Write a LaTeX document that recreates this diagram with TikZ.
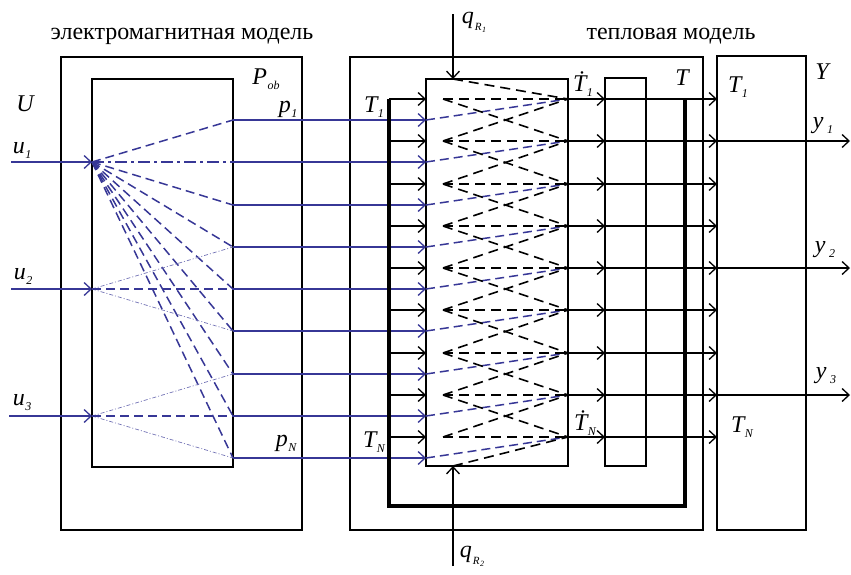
\documentclass[tikz,border=0pt]{standalone}
\usepackage{fontspec}
\setmainfont{Liberation Serif}
\usetikzlibrary{arrows.meta}
\definecolor{bl}{RGB}{55,55,150}
\newcommand\sbs[1]{\raisebox{-5pt}{\fontsize{12}{12}\selectfont\itshape #1}}
\newcommand\lbsub[2]{\textit{#1}\kern0.5pt\sbs{#2}}
\newcommand\qlab[1]{\textit{q}\kern1pt\raisebox{-7pt}{\fontsize{11}{11}\selectfont\itshape R\kern0.5pt\raisebox{-2pt}{\fontsize{8}{8}\selectfont #1}}}
\begin{document}
\begin{tikzpicture}[x=1pt,y=-1pt,
  box/.style={draw=black, line width=1.4pt, inner sep=0pt, outer sep=0pt, anchor=north west},
  arr/.style={-{Straight Barb[length=7pt,width=13pt,line width=1.3pt]}},
  kline/.style={draw=black, line width=1.6pt},
  bline/.style={draw=bl, line width=1.6pt},
  bdash/.style={draw=bl, line width=1.5pt, dash pattern=on 9pt off 5pt},
  bdashdot/.style={draw=bl, line width=1.5pt, dash pattern=on 12pt off 4pt on 3pt off 4pt},
  bdot/.style={draw=bl!70, line width=0.7pt, dash pattern=on 4pt off 2pt on 1pt off 2pt},
  kdash/.style={draw=black, line width=1.6pt, dash pattern=on 10pt off 6pt},
  lab/.style={font=\fontsize{24}{26}\selectfont\itshape, inner sep=0pt},
  title/.style={font=\fontsize{24}{26}\selectfont, inner sep=0pt},
  ]
\useasboundingbox (0,0) rectangle (851,574);
% boxes
\node[box, minimum width=241pt, minimum height=473pt] (emo) at (61,57) {};
\node[box, minimum width=141pt, minimum height=388pt] (emi) at (92,79) {};
\node[box, minimum width=353pt, minimum height=473pt] (thb) at (350,57) {};
\node[box, minimum width=142pt, minimum height=387pt] (mid) at (426,79) {};
\node[box, minimum width=41pt, minimum height=388pt] (thn) at (605,78) {};
\node[box, minimum width=89pt, minimum height=474pt] (ybx) at (717,56) {};
% coordinates
\foreach \i in {1,...,9} {
  \pgfmathtruncatemacro\yb{round(99+42.25*(\i-1))}
  \pgfmathtruncatemacro\yu{round(120+42.25*(\i-1))}
  \coordinate (pL\i) at (233,\yu);
  \coordinate (bi\i) at (426,\yu);
  \coordinate (tb\i) at (389,\yb);
  \coordinate (ti\i) at (426,\yb);
  \coordinate (dl\i) at (443,\yb);
  \coordinate (dr\i) at (568,\yb);
  \coordinate (tm\i) at (605,\yb);
  \coordinate (ty\i) at (717,\yb);
}
\coordinate (u1) at (emi.west |- pL2);
\coordinate (u2) at (emi.west |- pL5);
\coordinate (u3) at (emi.west |- pL8);
\coordinate (u1s) at (11,0 |- pL2);
\coordinate (u2s) at (11,0 |- pL5);
\coordinate (u3s) at (9,0 |- pL8);
\coordinate (o1) at (850,0 |- ty2);
\coordinate (o2) at (850,0 |- ty5);
\coordinate (o3) at (850,0 |- ty8);
\coordinate (fb1) at (389,506);
\coordinate (fb2) at (685,506);
\coordinate (fb3) at (685,0 |- tb1);
\coordinate (qt) at (453,79);
\coordinate (qs) at (453,14);
\coordinate (qb) at (453,466);
\coordinate (qbs) at (453,566);
% electromagnetic fan
\foreach \i in {1,3,4,5,6,7,8,9} \draw[bdash] (u1) -- (pL\i);
\draw[bdashdot] (u1) -- (pL2);
\draw[bdot] (u2) -- (pL4);
\draw[bdot] (u2) -- (pL6);
\draw[bdash] (u2) -- (pL5);
\draw[bdot] (u3) -- (pL7);
\draw[bdot] (u3) -- (pL9);
\draw[bdash] (u3) -- (pL8);
\draw[bline,arr] (u1s) -- (u1);
\draw[bline,arr] (u2s) -- (u2);
\draw[bline,arr] (u3s) -- (u3);
% thermal network
\foreach \i in {1,...,9} {
  \draw[bline,arr] (pL\i) -- (bi\i);
  \draw[bdash] (bi\i) -- (dr\i);
  \draw[kline,arr] (tb\i) -- (ti\i);
  \draw[kdash] (dl\i) -- (dr\i);
  \draw[kline,arr] (dr\i) -- (tm\i);
  \draw[kline,arr] (tm\i) -- (ty\i);
}
\foreach \i [evaluate=\i as \j using int(\i+1)] in {1,...,8} {
  \draw[kdash] (dl\i) -- (dr\j);
  \draw[kdash] (dl\j) -- (dr\i);
}
\draw[line width=4.5pt] (tb1) -- (fb1) -- (fb2) -- (fb3);
\draw[kline,arr] (qs) -- (qt);
\draw[kline,arr] (qbs) -- (qb);
\draw[kdash] (qt) -- (dr1);
\draw[kdash] (qb) -- (dr9);
% outputs
\draw[kline,arr] (ty2) -- (o1);
\draw[kline,arr] (ty5) -- (o2);
\draw[kline,arr] (ty8) -- (o3);
% labels
\node[title] (t1) at (182,36) {электромагнитная модель};
\node[title] (t2) at (671,36) {тепловая модель};
\node[lab] (lU) at (25,104) {U};
\node[lab] (lu1) at (22,150) {\lbsub{u}{1}};
\node[lab] (lu2) at (23,276) {\lbsub{u}{2}};
\node[lab] (lu3) at (22,403) {\lbsub{u}{3}};
\node[lab] (lP) at (266,79) {\lbsub{P}{ob}};
\node[lab] (lp1) at (288,109) {\lbsub{p}{1}};
\node[lab] (lpN) at (286,443) {\lbsub{p}{N}};
\node[lab] (lT1) at (374,107) {\lbsub{T}{1}};
\node[lab] (lTN) at (374,442) {\lbsub{T}{N}};
\node[lab] (lTd1) at (583,84) {\lbsub{\.{T}}{1}};
\node[lab] (lTdN) at (585,423) {\lbsub{\.{T}}{N}};
\node[lab] (lT) at (682,78) {T};
\node[lab] (lY) at (822,72) {Y};
\node[lab] (lYT1) at (738,87) {\lbsub{T}{1}};
\node[lab] (lYTN) at (742,427) {\lbsub{T}{N}};
\node[lab] (ly1) at (823,126) {\lbsub{y}{\kern3pt 1}};
\node[lab] (ly2) at (825,250) {\lbsub{y}{\kern3pt 2}};
\node[lab] (ly3) at (826,376) {\lbsub{y}{\kern3pt 3}};
\node[lab] (lq1) at (474,22) {\qlab{1}};
\node[lab] (lq2) at (472,556) {\qlab{2}};
\end{tikzpicture}
\end{document}
